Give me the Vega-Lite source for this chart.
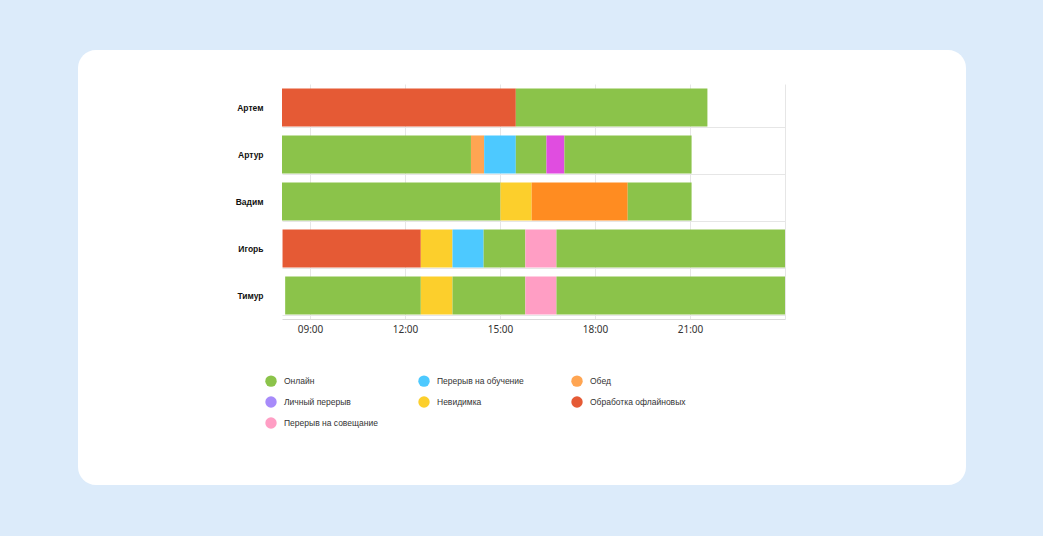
{
  "$schema": "https://vega.github.io/schema/vega-lite/v6.json",
  "width": 888,
  "height": 435,
  "autosize": "none",
  "padding": {"left": 78, "top": 50, "right": 77, "bottom": 51},
  "background": "#DCEBFA",
  "view": {"fill": "white", "stroke": null, "cornerRadius": 18},
  "config": {
    "font": "Liberation Sans"
  },
  "datasets": {
    "segments": [
      {"name": "Артем", "status": "Обработка офлайновых", "start": "2024-01-01T08:07", "end": "2024-01-01T15:30"},
      {"name": "Артем", "status": "Онлайн", "start": "2024-01-01T15:30", "end": "2024-01-01T21:33"},
      {"name": "Артур", "status": "Онлайн", "start": "2024-01-01T08:07", "end": "2024-01-01T14:05"},
      {"name": "Артур", "status": "Обед", "start": "2024-01-01T14:05", "end": "2024-01-01T14:30"},
      {"name": "Артур", "status": "Перерыв на обучение", "start": "2024-01-01T14:30", "end": "2024-01-01T15:30"},
      {"name": "Артур", "status": "Онлайн", "start": "2024-01-01T15:30", "end": "2024-01-01T16:28"},
      {"name": "Артур", "status": "Личный перерыв", "start": "2024-01-01T16:28", "end": "2024-01-01T17:02"},
      {"name": "Артур", "status": "Онлайн", "start": "2024-01-01T17:02", "end": "2024-01-01T21:03"},
      {"name": "Вадим", "status": "Онлайн", "start": "2024-01-01T08:07", "end": "2024-01-01T15:01"},
      {"name": "Вадим", "status": "Невидимка", "start": "2024-01-01T15:01", "end": "2024-01-01T16:00"},
      {"name": "Вадим", "status": "Перерыв", "start": "2024-01-01T16:00", "end": "2024-01-01T19:02"},
      {"name": "Вадим", "status": "Онлайн", "start": "2024-01-01T19:02", "end": "2024-01-01T21:03"},
      {"name": "Игорь", "status": "Обработка офлайновых", "start": "2024-01-01T08:08", "end": "2024-01-01T12:30"},
      {"name": "Игорь", "status": "Невидимка", "start": "2024-01-01T12:30", "end": "2024-01-01T13:30"},
      {"name": "Игорь", "status": "Перерыв на обучение", "start": "2024-01-01T13:30", "end": "2024-01-01T14:29"},
      {"name": "Игорь", "status": "Онлайн", "start": "2024-01-01T14:29", "end": "2024-01-01T15:48"},
      {"name": "Игорь", "status": "Перерыв на совещание", "start": "2024-01-01T15:48", "end": "2024-01-01T16:47"},
      {"name": "Игорь", "status": "Онлайн", "start": "2024-01-01T16:47", "end": "2024-01-02T00:00"},
      {"name": "Тимур", "status": "Онлайн", "start": "2024-01-01T08:13", "end": "2024-01-01T12:30"},
      {"name": "Тимур", "status": "Невидимка", "start": "2024-01-01T12:30", "end": "2024-01-01T13:30"},
      {"name": "Тимур", "status": "Онлайн", "start": "2024-01-01T13:30", "end": "2024-01-01T15:48"},
      {"name": "Тимур", "status": "Перерыв на совещание", "start": "2024-01-01T15:48", "end": "2024-01-01T16:47"},
      {"name": "Тимур", "status": "Онлайн", "start": "2024-01-01T16:47", "end": "2024-01-02T00:00"}
    ],
    "legendItems": [
      {"status": "Онлайн"},
      {"status": "Перерыв на обучение"},
      {"status": "Обед"},
      {"status": "Личный перерыв"},
      {"status": "Невидимка"},
      {"status": "Обработка офлайновых"},
      {"status": "Перерыв на совещание"}
    ]
  },
  "layer": [
    {
      "data": {"name": "segments"},
      "mark": {"type": "bar"},
      "encoding": {
        "y": {
          "field": "name",
          "type": "nominal",
          "sort": null,
          "scale": {"range": [34, 269], "paddingInner": 0.19, "paddingOuter": 0.095},
          "axis": {
            "title": null,
            "offset": -204,
            "domain": false,
            "ticks": false,
            "grid": true,
            "tickBand": "extent",
            "gridColor": {"condition": {"test": "datum.index === -1 || !!datum.extra", "value": "rgba(255,255,255,0)"}, "value": "#E6E6E6"},
            "gridWidth": 1,
            "labelFont": "Liberation Sans",
            "labelFontSize": 8.5,
            "labelFontWeight": "bold",
            "labelColor": "#111111",
            "labelPadding": 19
          }
        },
        "x": {
          "field": "start",
          "type": "temporal",
          "scale": {
            "domain": [
              {"year": 2024, "month": 1, "date": 1, "hours": 8, "minutes": 7},
              {"year": 2024, "month": 1, "date": 2, "hours": 0, "minutes": 0}
            ],
            "range": [204, 707],
            "nice": false
          },
          "axis": {
            "title": null,
            "orient": "top",
            "offset": -269,
            "values": [
              {"year": 2024, "month": 1, "date": 1, "hours": 9},
              {"year": 2024, "month": 1, "date": 1, "hours": 12},
              {"year": 2024, "month": 1, "date": 1, "hours": 15},
              {"year": 2024, "month": 1, "date": 1, "hours": 18},
              {"year": 2024, "month": 1, "date": 1, "hours": 21},
              {"year": 2024, "month": 1, "date": 2, "hours": 0}
            ],
            "labelExpr": "hours(datum.value) === 0 ? '' : timeFormat(datum.value, '%H:%M')",
            "ticks": false,
            "grid": true,
            "gridColor": "#E6E6E6",
            "domainColor": "#DADADA",
            "labelFont": "Noto Sans",
            "labelFontSize": 10,
            "labelColor": "#333333",
            "labelBaseline": "top",
            "labelPadding": -5
          }
        },
        "x2": {"field": "end"},
        "color": {
          "field": "status",
          "type": "nominal",
          "scale": {
            "domain": ["Онлайн", "Обработка офлайновых", "Обед", "Перерыв на обучение", "Личный перерыв", "Невидимка", "Перерыв на совещание", "Перерыв"],
            "range": ["#8BC34A", "#E55A35", "#FFA552", "#4DC9FF", "#E04DE0", "#FCCF2C", "#FF9EC4", "#FF8C21"]
          },
          "legend": null
        }
      }
    },
    {
      "data": {"name": "legendItems"},
      "mark": {"type": "point", "filled": true, "opacity": 0},
      "encoding": {
        "color": {
          "field": "status",
          "type": "nominal",
          "sort": null,
          "scale": {
            "domain": ["Онлайн", "Перерыв на обучение", "Обед", "Личный перерыв", "Невидимка", "Обработка офлайновых", "Перерыв на совещание"],
            "range": ["#8BC34A", "#4DC9FF", "#FFA552", "#A78BFA", "#FCCF2C", "#E55A35", "#FF9EC4"]
          },
          "legend": {
            "title": null,
            "orient": "none",
            "legendX": 187,
            "legendY": 325,
            "direction": "horizontal",
            "columns": 3,
            "gridAlign": "all",
            "columnPadding": 38,
            "rowPadding": 9,
            "padding": 0,
            "symbolType": "circle",
            "symbolSize": 130,
            "symbolOpacity": 1,
            "symbolStrokeWidth": 0,
            "labelOffset": 7,
            "labelFont": "Liberation Sans",
            "labelFontSize": 8.5,
            "labelColor": "#333333"
          }
        }
      }
    }
  ],
  "resolve": {"scale": {"color": "independent"}}
}
